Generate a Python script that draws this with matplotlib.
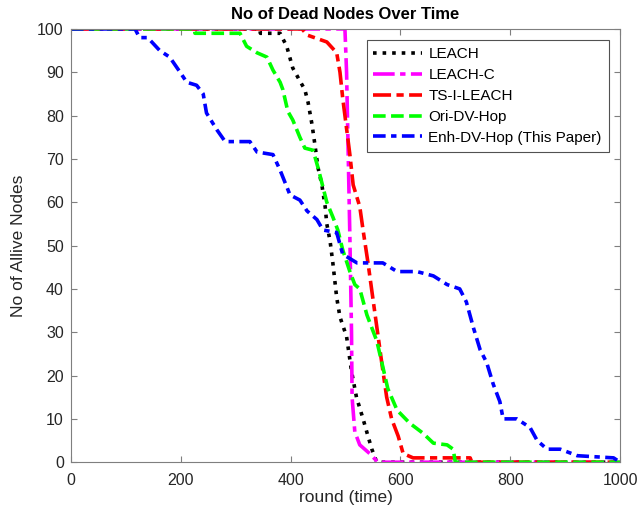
import numpy as np
import matplotlib.pyplot as plt

plt.rcParams['font.family'] = ['Liberation Sans', 'DejaVu Sans']
plt.rcParams['font.size'] = 11.5

# LEACH
leach_x = [0, 344, 345, 381, 393, 404, 417, 426, 432, 439, 444, 450, 457, 463,
           466, 472, 477, 484, 490, 502, 511, 520, 532, 541, 548, 557, 1000]
leach_y = [100, 100, 99, 99, 96, 91, 88, 86, 83, 78, 73.6, 68, 64, 59,
           55, 51, 46, 38, 33.5, 29, 21, 15, 10, 6, 3, 0, 0]

# LEACH-C
leachc_x = [0, 499, 502, 508, 511, 512, 517, 526, 544, 559, 1000]
leachc_y = [100, 100, 90, 52, 30, 15, 7, 4, 2, 0, 0]

# TS-I-LEACH
ts_x = [0, 421, 430, 466, 484, 490, 495, 502, 508, 514, 526, 532, 541, 554,
        566, 575, 584, 596, 605, 623, 727, 730, 1000]
ts_y = [100, 100, 98.6, 97, 94.5, 90, 84, 77, 71, 64, 59, 53.6, 46, 34,
        23, 15, 10, 6, 2, 1, 1, 0, 0]

# Ori-DV-Hop
ori_x = [0, 225, 226, 308, 320, 339, 357, 368, 381, 386, 395, 404, 417, 426,
         441, 450, 459, 466, 477, 486, 495, 508, 517, 526, 539, 557, 568,
         577, 594, 617, 641, 660, 685, 696, 700, 1000]
ori_y = [100, 100, 99, 99, 96, 94.5, 93.5, 90.5, 87.7, 86, 81, 79, 75, 72.5,
         72, 68, 63.5, 60, 56.6, 53.6, 49, 44, 41, 40, 34, 28, 22,
         17, 12, 9, 6.7, 4.4, 4, 3, 0, 0]

# Enh-DV-Hop (This Paper)
enh_x = [0, 117, 125, 140, 162, 180, 199, 211, 229, 241, 247, 266, 281, 326,
         339, 368, 381, 399, 417, 430, 448, 459, 484, 495, 521, 568, 594,
         630, 660, 685, 708, 720, 733, 745, 757, 769, 781, 787, 812, 836,
         849, 867, 891, 922, 988, 1000]
enh_y = [100, 100, 98, 98, 95, 93.5, 90, 87.7, 87, 85, 80.6, 76.7, 74, 74,
         71.6, 71, 67.4, 61.7, 60.5, 58, 56, 53.6, 53, 48, 46, 46, 44,
         44, 43, 41, 40, 37, 31, 26, 23, 18, 14, 10, 10, 8,
         5, 3, 3, 1.5, 1, 0]

series = [
    (leach_x, leach_y, 'LEACH', 'k', ':'),
    (leachc_x, leachc_y, 'LEACH-C', '#FF00FF', (0, (6, 1.5, 1.5, 1.5))),
    (ts_x, ts_y, 'TS-I-LEACH', 'r', (0, (5, 1.5, 2, 1.5))),
    (ori_x, ori_y, 'Ori-DV-Hop', '#00FF00', (0, (3.5, 1.5))),
    (enh_x, enh_y, 'Enh-DV-Hop (This Paper)', 'b', (0, (3.5, 1.5, 1.5, 1.5))),
]

fig = plt.figure(figsize=(6.38, 5.17), dpi=100)
ax = fig.add_axes([0.111, 0.106, 0.861, 0.838])

for x, y, label, color, ls in series:
    ax.plot(x, y, color=color, linestyle=ls, linewidth=2.6, label=label)

ax.set_xlim(0, 1000)
ax.set_ylim(0, 100)
ax.set_xticks(np.arange(0, 1001, 200))
ax.set_yticks(np.arange(0, 101, 10))
ax.tick_params(direction='in', length=4, colors='#7f7f7f', labelcolor='#262626',
               top=True, right=True)
ax.tick_params(axis='x', pad=8)
ax.tick_params(axis='y', pad=5)
for s in ax.spines.values():
    s.set_color('#7f7f7f')
ax.set_title('No of Dead Nodes Over Time', fontweight='bold', fontsize=12, pad=7)
ax.set_xlabel('round (time)', fontsize=12.5, color='#262626', labelpad=1)
ax.set_ylabel('No of Allive Nodes', fontsize=12.5, color='#262626', labelpad=8)

leg = ax.legend(loc='upper right', fontsize=11, fancybox=False, edgecolor='#262626',
                handlelength=3.2, handletextpad=0.4, borderaxespad=0.75,
                labelspacing=0.45, borderpad=0.45)
leg.get_frame().set_linewidth(0.8)

fig.savefig('out.png', dpi=100)
